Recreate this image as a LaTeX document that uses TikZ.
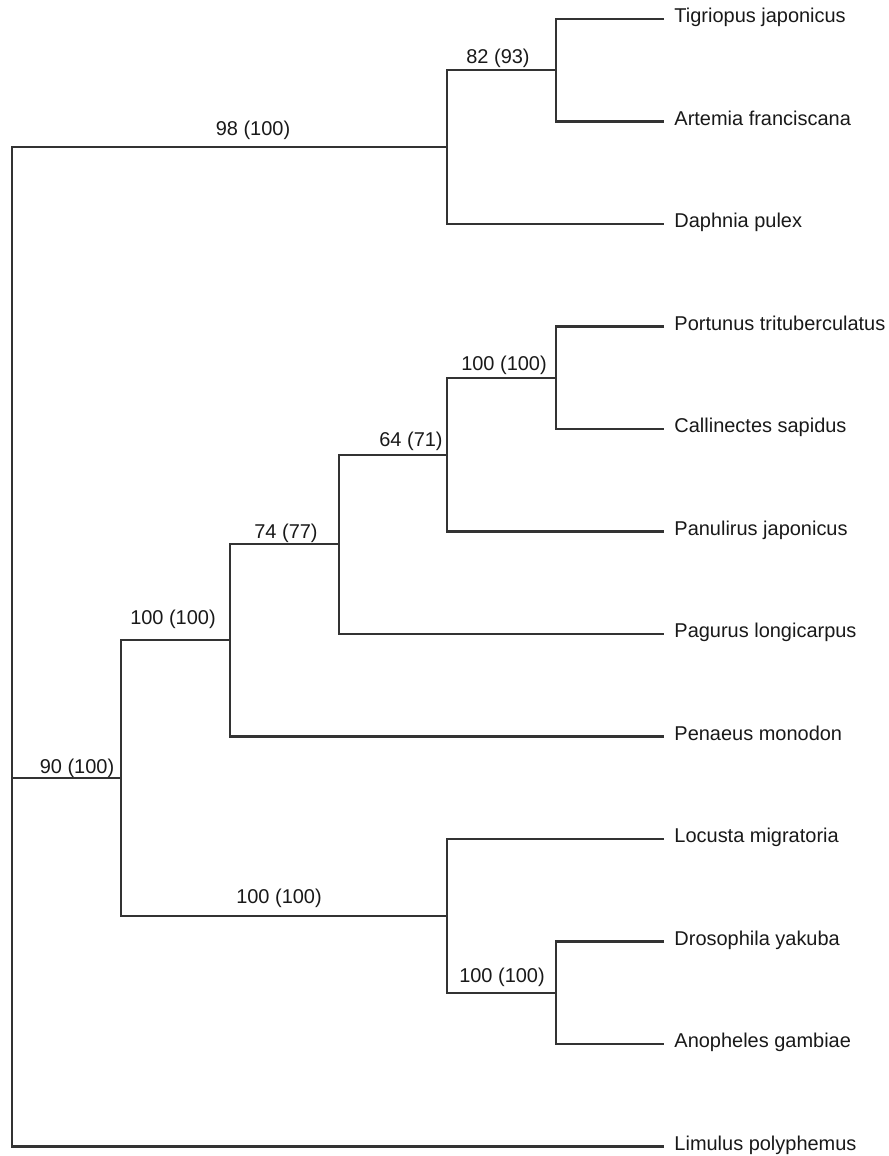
\documentclass[tikz,border=0pt]{standalone}
\usepackage{fontspec}
\setmainfont{Liberation Sans}
\begin{document}
\begin{tikzpicture}[x=0.025cm, y=-0.025cm, line width=1.5pt, draw=black!80,
		font=\fontsize{14.2}{17}\selectfont,
		taxon/.style={anchor=west, inner xsep=0.235cm, inner ysep=0pt,
			text height=0.72em, text depth=0.21em, text=black!90},
		support/.style={anchor=base, inner sep=0pt, text=black!90}]
	\useasboundingbox (0, 0) rectangle (888, 1156);

	% leaves
	\node[taxon] (tig) at (664, 19) {Tigriopus japonicus};
	\node[taxon] (art) at (664, 121.5) {Artemia franciscana};
	\node[taxon] (daph) at (664, 224) {Daphnia pulex};
	\node[taxon] (port) at (664, 326.5) {Portunus trituberculatus};
	\node[taxon] (call) at (664, 429) {Callinectes sapidus};
	\node[taxon] (panu) at (664, 531.5) {Panulirus japonicus};
	\node[taxon] (pag) at (664, 634) {Pagurus longicarpus};
	\node[taxon] (pen) at (664, 736.5) {Penaeus monodon};
	\node[taxon] (loc) at (664, 839) {Locusta migratoria};
	\node[taxon] (dros) at (664, 941.5) {Drosophila yakuba};
	\node[taxon] (anoph) at (664, 1044) {Anopheles gambiae};
	\node[taxon] (lim) at (664, 1146.5) {Limulus polyphemus};

	% inner nodes
	\coordinate (rt) at (12, 778.1);
	\coordinate (up) at (447, 147.1);
	\coordinate (ta) at (556, 70.25);
	\coordinate (pm) at (121, 778.1);
	\coordinate (dec) at (230, 640.4);
	\coordinate (pg) at (339, 544.3);
	\coordinate (pp) at (447, 454.6);
	\coordinate (crab) at (556, 377.75);
	\coordinate (ins) at (447, 915.9);
	\coordinate (dv) at (556, 992.75);

	% branches
	\draw (tig.west) -| (ta) |- (art.west);
	\draw (ta) -| (up) |- (daph.west);
	\draw (port.west) -| (crab) |- (call.west);
	\draw (crab) -| (pp) |- (panu.west);
	\draw (pp) -| (pg) |- (pag.west);
	\draw (pg) -| (dec) |- (pen.west);
	\draw (dros.west) -| (dv) |- (anoph.west);
	\draw (loc.west) -| (ins) |- (dv);
	\draw (dec) -| (pm) |- (ins);
	\draw (up) -| (rt) |- (lim.west);
	\draw (rt) -- (pm);

	% support values
	\node[support] (s98) at (253, 136) {98 (100)};
	\node[support] (s82) at (498, 64) {82 (93)};
	\node[support] (scrab) at (504, 370) {100 (100)};
	\node[support] (s64) at (411, 446) {64 (71)};
	\node[support] (s74) at (286, 538) {74 (77)};
	\node[support] (sdec) at (173, 624) {100 (100)};
	\node[support] (s90) at (77, 773) {90 (100)};
	\node[support] (sins) at (279, 903) {100 (100)};
	\node[support] (sdv) at (502, 982) {100 (100)};
\end{tikzpicture}
\end{document}
